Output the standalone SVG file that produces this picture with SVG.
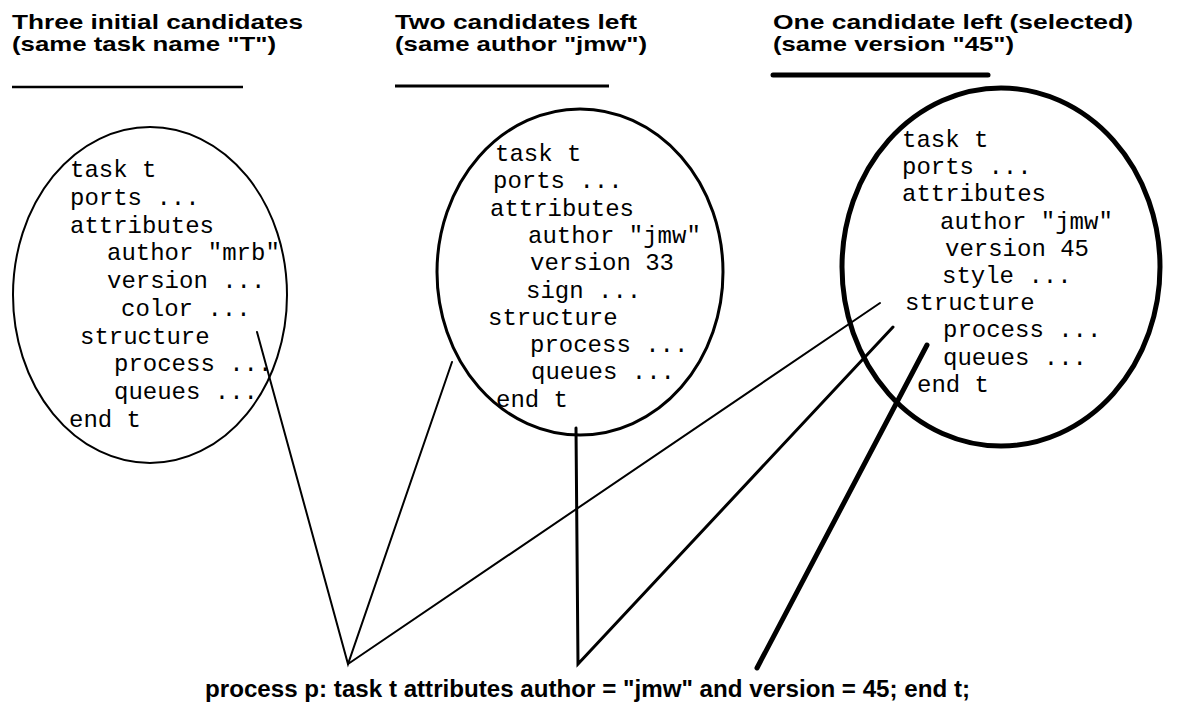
<svg xmlns="http://www.w3.org/2000/svg" width="1185" height="704" viewBox="0 0 1185 704">
<style>
.t{font-family:"Liberation Sans",Arial,sans-serif;font-weight:bold;font-size:21px;fill:#000}
.q{font-family:"Liberation Sans",Arial,sans-serif;font-weight:bold;font-size:23px;fill:#000}
.c{font-family:"Liberation Mono","Courier New",monospace;font-size:24px;fill:#000}
.e{fill:none;stroke:#000}
.l{stroke:#000;stroke-linecap:round;fill:none}
</style>
<rect width="1185" height="704" fill="#fff"/>
<g id="title1">
<text class="t" x="12" y="29" textLength="291" lengthAdjust="spacingAndGlyphs">Three initial candidates</text>
<text class="t" x="12" y="51" textLength="264" lengthAdjust="spacingAndGlyphs">(same task name "T")</text>
<line x1="12" y1="87" x2="243" y2="87" stroke="#000" stroke-width="2.5"/>
</g>
<g id="title2">
<text class="t" x="395" y="29" textLength="242" lengthAdjust="spacingAndGlyphs">Two candidates left</text>
<text class="t" x="395" y="51" textLength="252" lengthAdjust="spacingAndGlyphs">(same author "jmw")</text>
<line x1="395" y1="86" x2="609" y2="86" stroke="#000" stroke-width="3"/>
</g>
<g id="title3">
<text class="t" x="773" y="29" textLength="360" lengthAdjust="spacingAndGlyphs">One candidate left (selected)</text>
<text class="t" x="773" y="51" textLength="241" lengthAdjust="spacingAndGlyphs">(same version "45")</text>
<line x1="773" y1="75" x2="988" y2="75" stroke="#000" stroke-width="5" stroke-linecap="round"/>
</g>
<g id="candidate1">
<ellipse class="e" cx="150" cy="295" rx="137" ry="168" stroke-width="2"/>
<text class="c" x="70" y="177">task t</text>
<text class="c" x="70" y="205">ports ...</text>
<text class="c" x="70" y="233">attributes</text>
<text class="c" x="107" y="260">author "mrb"</text>
<text class="c" x="107" y="288">version ...</text>
<text class="c" x="121" y="316">color ...</text>
<text class="c" x="80" y="344">structure</text>
<text class="c" x="114" y="371">process ...</text>
<text class="c" x="114" y="399">queues ...</text>
<text class="c" x="69" y="427">end t</text>
</g>
<g id="candidate2">
<ellipse class="e" cx="580" cy="272" rx="143" ry="163" stroke-width="3"/>
<text class="c" x="495" y="161">task t</text>
<text class="c" x="493" y="188">ports ...</text>
<text class="c" x="490" y="216">attributes</text>
<text class="c" x="528" y="243">author "jmw"</text>
<text class="c" x="530" y="270">version 33</text>
<text class="c" x="526" y="298">sign ...</text>
<text class="c" x="488" y="325">structure</text>
<text class="c" x="530" y="352">process ...</text>
<text class="c" x="531" y="379">queues ...</text>
<text class="c" x="496" y="407">end t</text>
</g>
<g id="candidate3">
<ellipse class="e" cx="1001" cy="267" rx="159" ry="179" stroke-width="5"/>
<text class="c" x="902" y="147">task t</text>
<text class="c" x="902" y="174">ports ...</text>
<text class="c" x="902" y="201">attributes</text>
<text class="c" x="940" y="229">author "jmw"</text>
<text class="c" x="945" y="256">version 45</text>
<text class="c" x="942" y="283">style ...</text>
<text class="c" x="905" y="310">structure</text>
<text class="c" x="943" y="337">process ...</text>
<text class="c" x="943" y="365">queues ...</text>
<text class="c" x="917" y="392">end t</text>
</g>
<g id="connectors">
<polyline class="l" points="257,332 348,664 452,362" stroke-width="2"/>
<line class="l" x1="348" y1="664" x2="880" y2="303" stroke-width="2"/>
<polyline class="l" points="576,428 578,664 893,327" stroke-width="3"/>
<line class="l" x1="757" y1="668" x2="927" y2="345" stroke-width="5"/>
</g>
<g id="query">
<text class="q" x="205" y="697" textLength="765" lengthAdjust="spacingAndGlyphs">process p: task t attributes author = "jmw" and version = 45; end t;</text>
</g>
</svg>
